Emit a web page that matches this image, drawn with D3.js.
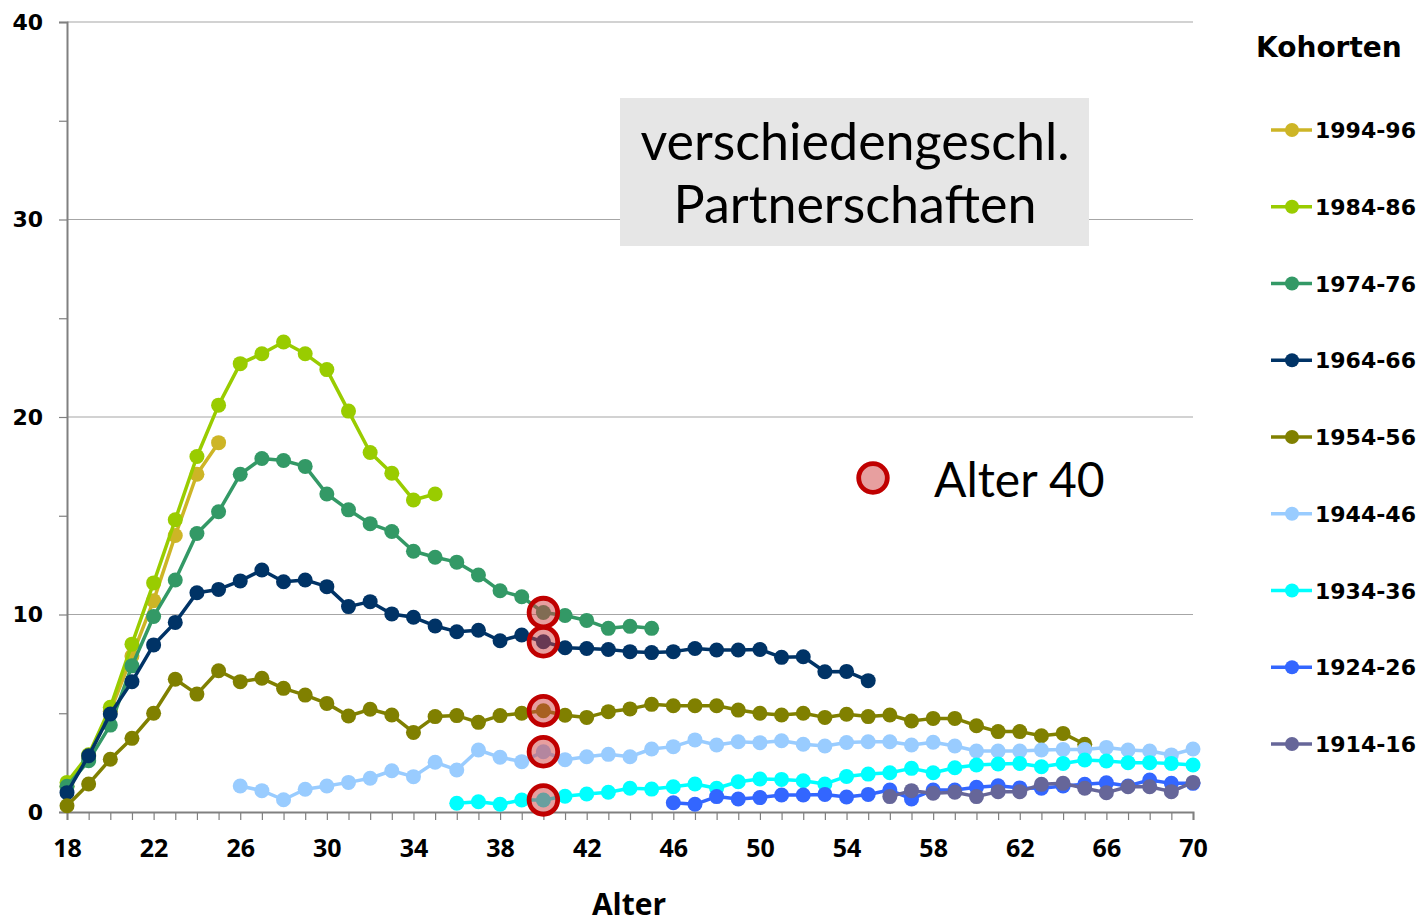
<!DOCTYPE html>
<html>
<head>
<meta charset="utf-8">
<script src="https://cdn.jsdelivr.net/npm/d3@7"></script>
<style>
  body { margin: 0; background: #fff; }
  svg { display: block; }
</style>
</head>
<body>
<svg id="chart" width="1420" height="923"></svg>
<script>
// cohorts, first age of each series and the values (per cent)
const cohorts = ['1994-96', '1984-86', '1974-76', '1964-66', '1954-56', '1944-46', '1934-36', '1924-26', '1914-16']
const colors = ['#CDB526', '#99CC00', '#339966', '#003366', '#808000', '#99CCFF', '#00FFFF', '#3366FF', '#666699']
const startAges = [18, 18, 18, 18, 18, 26, 36, 46, 56]

const v1994 = [1.3, 2.8, 5.1, 7.9, 10.7, 14.0, 17.1, 18.7]
const v1984 = [1.5, 2.9, 5.3, 8.5, 11.6, 14.8, 18.0, 20.6, 22.7, 23.2, 23.8, 23.2, 22.4, 20.3, 18.2, 17.15, 15.8, 16.1]
const v1974 = [1.3, 2.6, 4.4, 7.4, 9.9, 11.75, 14.1, 15.2, 17.1, 17.9, 17.8, 17.5, 16.1, 15.3, 14.6, 14.2, 13.2, 12.9, 12.65, 12.0,
               11.2, 10.9, 10.1, 9.95, 9.7, 9.3, 9.4, 9.3]
const v1964 = [0.98, 2.85, 4.96, 6.6, 8.46, 9.6, 11.1, 11.27, 11.7, 12.25, 11.66, 11.75, 11.41, 10.4, 10.65, 10.03, 9.86, 9.42, 9.13, 9.2,
               8.67, 8.96, 8.62, 8.32, 8.28, 8.23, 8.12, 8.07, 8.12, 8.28, 8.2, 8.2, 8.23, 7.83, 7.86, 7.1, 7.12, 6.65]
const v1954 = [0.32, 1.42, 2.67, 3.73, 5.0, 6.72, 5.97, 7.15, 6.6, 6.77, 6.26, 5.92, 5.5, 4.86, 5.2, 4.91, 4.03, 4.83, 4.88, 4.54,
               4.88, 5.0, 5.13, 4.9, 4.79, 5.08, 5.22, 5.45, 5.38, 5.38, 5.38, 5.16, 5.0, 4.91, 5.0, 4.79, 4.95, 4.83, 4.91, 4.61,
               4.74, 4.74, 4.37, 4.07, 4.07, 3.86, 3.98, 3.43]
const v1944 = [1.32, 1.08, 0.62, 1.15, 1.32, 1.5, 1.71, 2.09, 1.79, 2.52, 2.13, 3.14, 2.77, 2.55, 3.05, 2.65, 2.8, 2.92, 2.8, 3.19,
               3.31, 3.65, 3.39, 3.56, 3.51, 3.61, 3.43, 3.34, 3.52, 3.56, 3.56, 3.39, 3.53, 3.34, 3.09, 3.09, 3.09, 3.14, 3.17, 3.17,
               3.27, 3.14, 3.09, 2.89, 3.19]
const v1934 = [0.44, 0.52, 0.39, 0.61, 0.61, 0.8, 0.91, 1.0, 1.2, 1.16, 1.28, 1.42, 1.2, 1.53, 1.67, 1.65, 1.58, 1.42, 1.8, 1.92,
               1.99, 2.21, 1.99, 2.24, 2.38, 2.43, 2.46, 2.29, 2.46, 2.63, 2.58, 2.5, 2.5, 2.46, 2.38]
const v1924 = [0.47, 0.39, 0.78, 0.66, 0.73, 0.86, 0.86, 0.89, 0.76, 0.89, 1.11, 0.66, 1.11, 1.11, 1.25, 1.33, 1.22, 1.2, 1.32, 1.4,
               1.48, 1.32, 1.62, 1.45, 1.45]
const v1914 = [0.78, 1.08, 0.95, 1.0, 0.78, 1.03, 1.03, 1.4, 1.45, 1.2, 0.98, 1.28, 1.28, 1.03, 1.5]
const seriesValues = [v1994, v1984, v1974, v1964, v1954, v1944, v1934, v1924, v1914]

const highlightAge = 40
const xTickLabels = [18, 22, 26, 30, 34, 38, 42, 46, 50, 54, 58, 62, 66, 70]
const yTickLabels = [0, 10, 20, 30, 40]

const boldWide = '"DejaVu Sans", Verdana, sans-serif'
const boldRound = '"Open Sans", "Noto Sans", sans-serif'
const plainFont = 'Lato, "Open Sans", sans-serif'

const svg = d3.select('#chart')

const x = d3.scaleLinear().domain([18, 70]).range([67, 1193])
const y = d3.scaleLinear().domain([0, 40]).range([812, 22])

// gridlines
svg.append('g').attr('class', 'grid')
  .selectAll('line').data(yTickLabels.filter(d => d > 0)).enter().append('line')
  .attr('x1', x(18)).attr('x2', x(70))
  .attr('y1', d => y(d)).attr('y2', d => y(d))
  .attr('stroke', '#A6A6A6').attr('stroke-width', 1.2)

// y axis
const yAxis = d3.axisLeft(y).tickValues(d3.range(0, 41, 5)).tickSize(8).tickPadding(16)
                .tickFormat(d => d % 10 === 0 ? d : '')
const yG = svg.append('g').attr('transform', `translate(${x(18)},0)`).call(yAxis)
yG.select('.domain').attr('stroke', '#808080').attr('stroke-width', 2)
yG.selectAll('.tick line').attr('stroke', '#808080').attr('stroke-width', 1.2)
yG.selectAll('.tick text').attr('font-family', boldWide).attr('font-weight', 'bold')
  .attr('font-size', 22).attr('fill', '#000')

// x axis
const xAxis = d3.axisBottom(x).tickValues(d3.range(18, 71, 1)).tickSize(8).tickPadding(19)
                .tickFormat(d => xTickLabels.includes(d) ? d : '')
const xG = svg.append('g').attr('transform', `translate(0,${y(0)})`).call(xAxis)
xG.select('.domain').attr('stroke', '#808080').attr('stroke-width', 2)
xG.selectAll('.tick line').attr('stroke', '#808080').attr('stroke-width', 1.2)
xG.selectAll('.tick text').attr('font-family', boldRound).attr('font-weight', 'bold')
  .attr('font-size', 25).attr('fill', '#000')

svg.append('text')
  .attr('x', 629).attr('y', 915)
  .attr('text-anchor', 'middle')
  .attr('font-family', boldRound).attr('font-weight', 'bold').attr('font-size', 30)
  .text('Alter')

// series
const seriesData = cohorts.map((c, i) => ({
  name: c,
  color: colors[i],
  points: seriesValues[i].map((v, j) => ({age: startAges[i] + j, value: v}))
}))

const line = d3.line().x(d => x(d.age)).y(d => y(d.value))

const seriesG = svg.append('g').attr('class', 'series')
seriesData.forEach(s => {
  const g = seriesG.append('g')
  g.append('path')
    .attr('d', line(s.points))
    .attr('fill', 'none')
    .attr('stroke', s.color)
    .attr('stroke-width', 3.5)
    .attr('stroke-linejoin', 'round')
  g.selectAll('circle').data(s.points).enter().append('circle')
    .attr('cx', d => x(d.age)).attr('cy', d => y(d.value))
    .attr('r', 7.5)
    .attr('fill', s.color)
})

// age 40 highlights
const highlights = seriesData
  .map(s => s.points.find(p => p.age === highlightAge))
  .filter(p => p)

svg.append('g').selectAll('circle').data(highlights).enter().append('circle')
  .attr('cx', d => x(d.age)).attr('cy', d => y(d.value))
  .attr('r', 14.3)
  .attr('fill', 'rgba(208,64,64,0.5)')
  .attr('stroke', '#C00000')
  .attr('stroke-width', 4.8)

// legend for the highlight
svg.append('circle')
  .attr('cx', 873).attr('cy', 478).attr('r', 14.3)
  .attr('fill', 'rgba(208,64,64,0.5)')
  .attr('stroke', '#C00000').attr('stroke-width', 4.8)
svg.append('text')
  .attr('x', 934).attr('y', 497)
  .attr('font-family', plainFont).attr('font-size', 48)
  .text('Alter 40')

// title box
svg.append('rect')
  .attr('x', 620).attr('y', 98).attr('width', 469).attr('height', 148)
  .attr('fill', '#E6E6E6')
svg.append('text')
  .attr('x', 855).attr('y', 160)
  .attr('text-anchor', 'middle')
  .attr('font-family', plainFont).attr('font-size', 52)
  .text('verschiedengeschl.')
svg.append('text')
  .attr('x', 855).attr('y', 223)
  .attr('text-anchor', 'middle')
  .attr('font-family', plainFont).attr('font-size', 52)
  .text('Partnerschaften')

// legend
svg.append('text')
  .attr('x', 1256).attr('y', 57)
  .attr('font-family', boldWide).attr('font-weight', 'bold').attr('font-size', 28)
  .text('Kohorten')

const legendY = d3.scalePoint().domain(cohorts).range([130, 744])
const legendG = svg.append('g').selectAll('g').data(seriesData).enter().append('g')
  .attr('transform', d => `translate(0,${legendY(d.name)})`)
legendG.append('line')
  .attr('x1', 1271).attr('x2', 1312)
  .attr('stroke', d => d.color).attr('stroke-width', 3.5)
legendG.append('circle')
  .attr('cx', 1292).attr('r', 7)
  .attr('fill', d => d.color)
legendG.append('text')
  .attr('x', 1315).attr('y', 8)
  .attr('font-family', boldWide).attr('font-weight', 'bold').attr('font-size', 22)
  .text(d => d.name)
</script>
</body>
</html>
